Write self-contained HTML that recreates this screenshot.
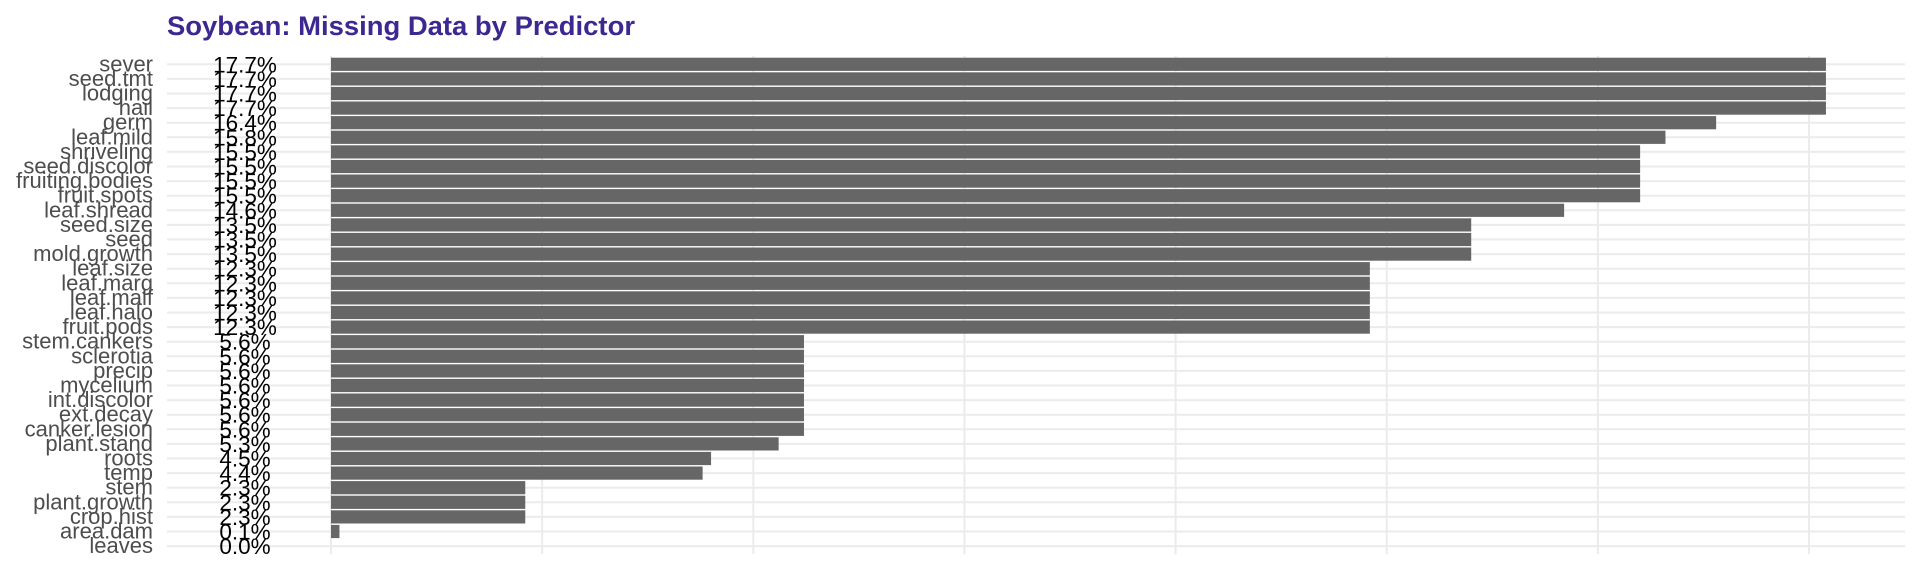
<!DOCTYPE html>
<html><head><meta charset="utf-8"><style>
html,body{margin:0;padding:0;background:#fff;}
svg{display:block;font-family:"Liberation Sans",Arial,sans-serif;}
</style></head><body>
<svg id="chart" width="1920" height="576" viewBox="0 0 1920 576" xmlns="http://www.w3.org/2000/svg">
<text x="167" y="35" font-size="27" font-weight="bold" fill="#3d2790" textLength="468" lengthAdjust="spacingAndGlyphs">Soybean: Missing Data by Predictor</text>
<g id="grid"></g><g id="bars"></g><g id="labels"></g>
</svg>
<script>
const categories = ["sever","seed.tmt","lodging","hail","germ","leaf.mild","shriveling","seed.discolor","fruiting.bodies","fruit.spots","leaf.shread","seed.size","seed","mold.growth","leaf.size","leaf.marg","leaf.malf","leaf.halo","fruit.pods","stem.cankers","sclerotia","precip","mycelium","int.discolor","ext.decay","canker.lesion","plant.stand","roots","temp","stem","plant.growth","crop.hist","area.dam","leaves"];
const values = [17.7,17.7,17.7,17.7,16.4,15.8,15.5,15.5,15.5,15.5,14.6,13.5,13.5,13.5,12.3,12.3,12.3,12.3,12.3,5.6,5.6,5.6,5.6,5.6,5.6,5.6,5.3,4.5,4.4,2.3,2.3,2.3,0.1,0.0];
const gridTicks = [0,2.5,5,7.5,10,12.5,15,17.5];

const NS = "http://www.w3.org/2000/svg";
const x0 = 331, pxPer = 84.46;
function xScale(v){ return x0 + v*pxPer; }
function yScale(i){ return 64.3 + i*14.6; }
function mk(tag, attrs, parent){
  const e = document.createElementNS(NS, tag);
  for (const k in attrs) e.setAttribute(k, attrs[k]);
  parent.appendChild(e); return e;
}
const grid = document.getElementById('grid');
const bars = document.getElementById('bars');
const labels = document.getElementById('labels');
const yTop = 56, yBot = yScale(categories.length-1) + 8;
gridTicks.forEach(t => {
  const l = mk('line', {x1:xScale(t), x2:xScale(t), y1:yTop, y2:yBot, stroke:'#ebebeb', 'stroke-width':2}, grid);
  
  
});
categories.forEach((c,i) => {
  const y = yScale(i);
  const g = mk('line', {x1:167, x2:1905, y1:y, y2:y, stroke:'#ebebeb', 'stroke-width':2}, grid);
  
  
  const w = Math.max(0, xScale(values[i]) - x0);
  const r = mk('rect', {x:x0, y:y-6.6, width:w, height:13.2, fill:'#666666'}, bars);
  
  
  const t = mk('text', {x:153, y:y+7, 'text-anchor':'end', 'font-size':22, fill:'#4d4d4d'}, labels);
  t.textContent = c;
  
  
  const p = mk('text', {x:245, y:y+8, 'text-anchor':'middle', 'font-size':22.5, fill:'#000'}, labels);
  p.textContent = values[i].toFixed(1) + '%';
  
  
});
</script>
</body></html>
